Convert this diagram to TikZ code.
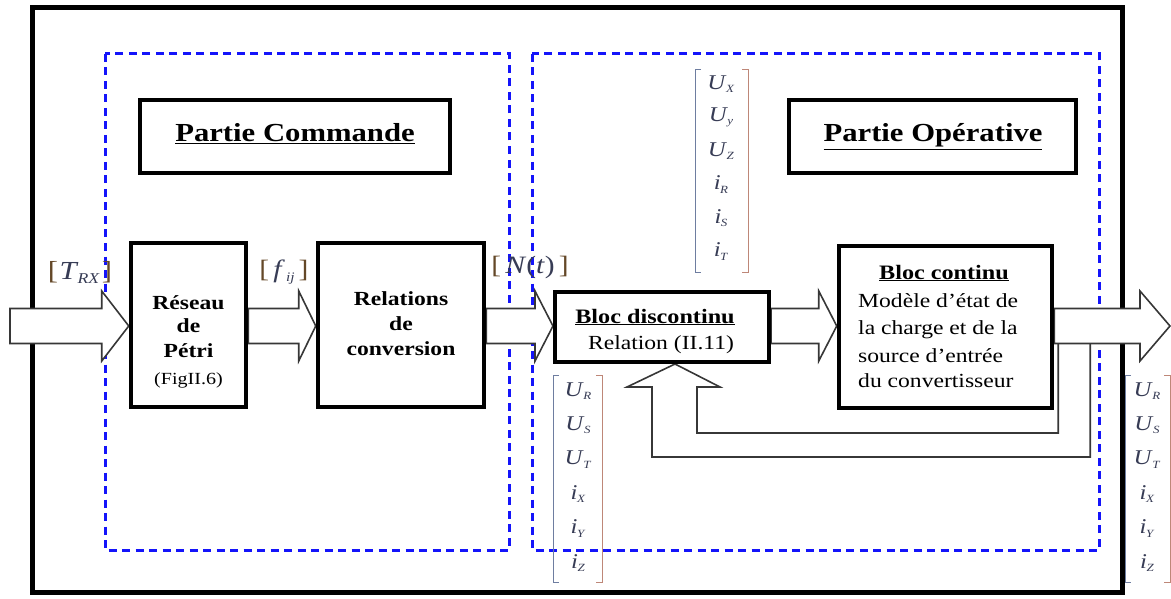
\documentclass[tikz,border=0pt]{standalone}
\usepackage{fontspec}
\setmainfont{Liberation Serif}[FakeStretch=1.18]
\usetikzlibrary{calc}
\definecolor{dblue}{RGB}{20,20,250}
\definecolor{lettc}{RGB}{55,60,85}
\definecolor{brkc}{RGB}{100,72,40}
\definecolor{arrc}{RGB}{55,55,55}
\definecolor{lbrc}{RGB}{110,125,160}
\definecolor{rbrc}{RGB}{190,135,120}
\newcommand\fs[1]{\fontsize{#1}{#1}\selectfont}
\newcommand\mvar[2]{\textit{#1}\kern-0.5pt\raisebox{-3.5pt}{\fs{11}\textit{#2}}}
\newcommand\blockarrow[3]{%
  \draw[barrow] ($(#1)+(0,-17.5)$) -- ($(#2)+(-#3,-17.5)$) -- ($(#2)+(-#3,-35)$) -- (#2)
    -- ($(#2)+(-#3,35)$) -- ($(#2)+(-#3,17.5)$) -- ($(#1)+(0,17.5)$) -- cycle;}
\pgfdeclarelayer{bg}
\pgfdeclarelayer{mid}
\pgfsetlayers{bg,mid,main}
\begin{document}
\begin{tikzpicture}[x=1pt,y=-1pt,
  box/.style={draw=black, line width=4.5pt, fill=white, inner sep=0pt},
  blue box/.style={draw=dblue, line width=3pt, dash pattern=on 8pt off 5.5pt},
  barrow/.style={draw=arrc, line width=1.6pt, fill=white, line join=miter},
  pipe/.style={draw=arrc, line width=1.6pt, line join=miter},
  txt/.style={inner sep=0pt, text=black},
  ent/.style={inner sep=0pt, text=lettc, font=\fs{21}},
  lbrk/.style={draw=lbrc, line width=1pt},
  rbrk/.style={draw=rbrc, line width=1pt}
]
\useasboundingbox (0,0) rectangle (1171,599);

\begin{pgfonlayer}{bg}
\draw[line width=5pt] (32,8) rectangle (1122,592);
\draw[blue box] (105,54) rectangle (509,550);
\draw[blue box] (532,54) rectangle (1099,550);
\end{pgfonlayer}

% title boxes
\node[box, minimum width=310pt, minimum height=73pt] (pc) at (295,136.5) {};
\node[txt, anchor=base, font=\fs{26}\bfseries] (pct) at (295,142) {\underline{Partie Commande}};
\node[box, minimum width=287pt, minimum height=73pt] (po) at (932.5,136.5) {};
\node[txt, anchor=base, font=\fs{26}\bfseries] (pot) at (933,142) {\underline{Partie Opérative}};

% blocks
\node[box, minimum width=115pt, minimum height=164pt] (rp) at (188.5,325) {};
\node[txt, anchor=base, font=\fs{20}\bfseries] (rp1) at (188.5,309) {Réseau};
\node[txt, anchor=base, font=\fs{20}\bfseries] (rp2) at (188.5,332) {de};
\node[txt, anchor=base, font=\fs{20}\bfseries] (rp3) at (188.5,357) {Pétri};
\node[txt, anchor=base, font=\fs{17}] (rp4) at (188.5,384) {(FigII.6)};

\node[box, minimum width=166pt, minimum height=164pt] (rc) at (401,325) {};
\node[txt, anchor=base, font=\fs{20}\bfseries] (rc1) at (401,305) {Relations};
\node[txt, anchor=base, font=\fs{20}\bfseries] (rc2) at (401,330) {de};
\node[txt, anchor=base, font=\fs{20}\bfseries] (rc3) at (401,355) {conversion};

\node[box, line width=4pt, minimum width=214pt, minimum height=70pt] (bd) at (662,327) {};
\node[txt, anchor=base, font=\fs{20.5}\bfseries] (bd1) at (655,323) {\underline{Bloc discontinu}};
\node[txt, anchor=base, font=\fs{20}] (bd2) at (661,349) {Relation (II.11)};

\node[box, minimum width=213pt, minimum height=162pt] (bc) at (945.5,327) {};
\node[txt, anchor=base, font=\fs{20.5}\bfseries] (bc0) at (944,279) {\underline{Bloc continu}};
\node[txt, anchor=base west, font=\fs{20}] (bc1) at (858,307) {Modèle d’état de};
\node[txt, anchor=base west, font=\fs{20}] (bc2) at (858,334) {la charge et de la};
\node[txt, anchor=base west, font=\fs{20}] (bc3) at (858,362) {source d’entrée};
\node[txt, anchor=base west, font=\fs{20}] (bc4) at (858,387) {du convertisseur};

% block arrows
\coordinate (axis) at (0,326);
\coordinate (in0) at (10,326);
\coordinate (a1t) at (rp.west |- axis);
\coordinate (a2s) at (rp.east |- axis);
\coordinate (a2t) at (rc.west |- axis);
\coordinate (a3s) at (rc.east |- axis);
\coordinate (a3t) at (bd.west |- axis);
\coordinate (a4s) at (bd.east |- axis);
\coordinate (a4t) at (bc.west |- axis);
\coordinate (a5s) at (bc.east |- axis);
\coordinate (out0) at (1170,326);
\coordinate (fbtip) at ($(bd.south)+(13,0)$);
\coordinate (fbin) at ($(a5s)+(4,17.5)$);
\coordinate (fbout) at ($(a5s)+(36,17.5)$);

\begin{pgfonlayer}{mid}
\blockarrow{in0}{a1t}{27}
\blockarrow{a2s}{a2t}{17}
\blockarrow{a3s}{a3t}{18}
\blockarrow{a4s}{a4t}{18}
\blockarrow{a5s}{out0}{30}
\draw[pipe] (fbin) -- (fbin |- 0,433) -- (697,433) -- (697,387) -- (720,387) -- (fbtip)
  -- (627,387) -- (652,387) -- (652,457) -- (fbout |- 0,457) -- (fbout);
\end{pgfonlayer}

% labels
\node[txt, text=lettc, font=\fs{26}] (ltrx) at (80,272)
  {{\color{brkc}[}\kern1.5pt\textit{T}\kern-1pt\raisebox{-4pt}{\fs{15}\textit{RX}}\kern2pt{\color{brkc}]}};
\node[txt, text=lettc, font=\fs{25}] (lfij) at (284,272)
  {{\color{brkc}[}\,\textit{f}\kern1pt\raisebox{-4pt}{\fs{13}\textit{ij}}\,{\color{brkc}]}};
\node[txt, text=lettc, font=\fs{25}] (lnt) at (530,267)
  {{\color{brkc}[}\,\textit{N}(\textit{t})\,{\color{brkc}]}};

% top matrix
\draw[lbrk] (701,70) -- (695,70) -- (695,272) -- (701,272);
\draw[rbrk] (742,70) -- (748,70) -- (748,272) -- (742,272);
\foreach \e [count=\k from 0] in {{\mvar{U}{X}},{\mvar{U}{y}},{\mvar{U}{Z}},{\mvar{i}{R}},{\mvar{i}{S}},{\mvar{i}{T}}}
  \node[ent] (mt\k) at (721,84+33.5*\k) {\e};

% bottom-left matrix
\draw[lbrk] (559,375) -- (553,375) -- (553,582) -- (559,582);
\draw[rbrk] (596,375) -- (602,375) -- (602,582) -- (596,582);
\foreach \e [count=\k from 0] in {{\mvar{U}{R}},{\mvar{U}{S}},{\mvar{U}{T}},{\mvar{i}{X}},{\mvar{i}{Y}},{\mvar{i}{Z}}}
  \node[ent] (mb\k) at (578,391+34.4*\k) {\e};

% right matrix
\draw[lbrk] (1131,375) -- (1125,375) -- (1125,582) -- (1131,582);
\draw[rbrk] (1164,375) -- (1170,375) -- (1170,582) -- (1164,582);
\foreach \e [count=\k from 0] in {{\mvar{U}{R}},{\mvar{U}{S}},{\mvar{U}{T}},{\mvar{i}{X}},{\mvar{i}{Y}},{\mvar{i}{Z}}}
  \node[ent] (mr\k) at (1147,391+34.4*\k) {\e};
\end{tikzpicture}
\end{document}
